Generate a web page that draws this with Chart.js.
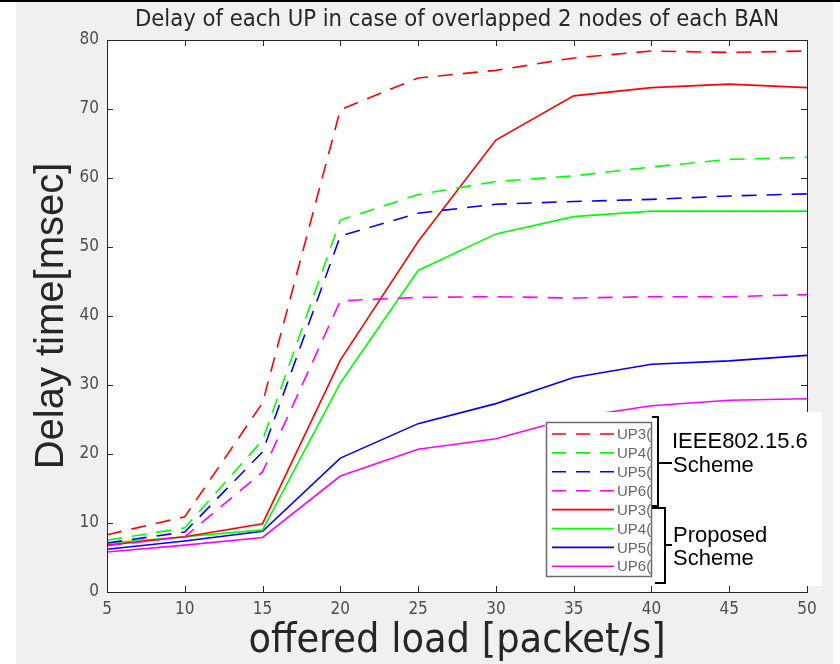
<!DOCTYPE html>
<html><head><meta charset="utf-8">
<script src="https://cdn.jsdelivr.net/npm/chart.js@4.4.1/dist/chart.umd.min.js"></script>
<style>html,body{margin:0;padding:0;background:#fff;overflow:hidden}#wrap{width:840px;height:664px;position:relative}</style>
</head><body><div id="wrap"><canvas id="c" width="840" height="664"></canvas></div>
<script>
const chartTitle = 'Delay of each UP in case of overlapped 2 nodes of each BAN';
const xTitle = 'offered load [packet/s]';
const yTitle = 'Delay time[msec]';
const loads = [5, 10, 15, 20, 25, 30, 35, 40, 45, 50];
const ieeeUP3 = [8.3, 10.9, 27.4, 69.9, 74.5, 75.6, 77.4, 78.4, 78.2, 78.4];
const ieeeUP4 = [7.5, 9.3, 22.0, 53.9, 57.6, 59.5, 60.3, 61.6, 62.7, 63.0];
const ieeeUP5 = [7.1, 8.7, 20.3, 51.6, 54.9, 56.2, 56.6, 56.9, 57.4, 57.7];
const ieeeUP6 = [6.7, 8.0, 17.4, 42.2, 42.7, 42.8, 42.6, 42.8, 42.8, 43.1];
const propUP3 = [6.8, 8.0, 9.9, 33.6, 50.8, 65.5, 71.9, 73.1, 73.6, 73.1];
const propUP4 = [7.1, 8.0, 9.0, 30.3, 46.6, 51.9, 54.4, 55.2, 55.2, 55.2];
const propUP5 = [6.2, 7.4, 8.8, 19.4, 24.4, 27.3, 31.1, 33.0, 33.5, 34.3];
const propUP6 = [5.8, 6.8, 7.9, 16.8, 20.7, 22.2, 25.3, 27.0, 27.8, 28.0];
const seriesLabels = ['UP3(IEEE802.15.6)', 'UP4(IEEE802.15.6)', 'UP5(IEEE802.15.6)', 'UP6(IEEE802.15.6)',
                      'UP3(Proposed)', 'UP4(Proposed)', 'UP5(Proposed)', 'UP6(Proposed)'];
const groupIEEE = ['IEEE802.15.6', 'Scheme'];
const groupProp = ['Proposed', 'Scheme'];

const seriesData = [ieeeUP3, ieeeUP4, ieeeUP5, ieeeUP6, propUP3, propUP4, propUP5, propUP6];
const colors = ['#ff0000', '#00ff00', '#0000ff', '#ff00ff'];
const DASH = [15, 10];
const condensed = "'DejaVu Sans Condensed','DejaVu Sans',sans-serif";

const datasets = seriesData.map((vals, i) => ({
  label: seriesLabels[i],
  data: loads.map((x, j) => ({x: x, y: vals[j]})),
  borderColor: colors[i % 4],
  backgroundColor: colors[i % 4],
  borderWidth: 1.6,
  borderDash: i < 4 ? DASH : [],
  pointRadius: 0,
  tension: 0,
  fill: false
}));

const framePlugin = {
  id: 'frame',
  beforeDraw(chart) {
    const {ctx, chartArea: a} = chart;
    ctx.save();
    ctx.fillStyle = '#ffffff'; ctx.fillRect(0, 0, 840, 664);
    ctx.fillStyle = '#f0f0f0'; ctx.fillRect(16, 0, 817, 664);
    ctx.fillStyle = '#000000'; ctx.fillRect(0, 0, 840, 2);
    ctx.fillStyle = '#ffffff'; ctx.fillRect(a.left, a.top, a.right - a.left, a.bottom - a.top);
    ctx.restore();
  },
  afterDatasetsDraw(chart) {
    const {ctx, chartArea: a, scales} = chart;
    ctx.save();
    ctx.strokeStyle = '#262626';
    ctx.lineWidth = 1;
    const TL = 6;
    ctx.beginPath();
    scales.x.ticks.forEach(t => {
      if (t.value <= scales.x.min || t.value >= scales.x.max) return;
      const px = Math.round(scales.x.getPixelForValue(t.value)) + 0.5;
      ctx.moveTo(px, a.bottom); ctx.lineTo(px, a.bottom - TL);
      ctx.moveTo(px, a.top); ctx.lineTo(px, a.top + TL);
    });
    scales.y.ticks.forEach(t => {
      if (t.value <= scales.y.min || t.value >= scales.y.max) return;
      const py = Math.round(scales.y.getPixelForValue(t.value)) + 0.5;
      ctx.moveTo(a.left, py); ctx.lineTo(a.left + TL, py);
      ctx.moveTo(a.right, py); ctx.lineTo(a.right - TL, py);
    });
    ctx.stroke();
    ctx.strokeRect(Math.round(a.left) + 0.5, Math.round(a.top) + 0.5, Math.round(a.right - a.left), Math.round(a.bottom - a.top));
    ctx.restore();
  },
  afterDraw(chart) {
    const {ctx} = chart;
    ctx.save();
    ctx.fillStyle = '#ffffff';
    ctx.fillRect(545, 412, 277, 174);
    ctx.strokeStyle = '#6a6a6a';
    ctx.lineWidth = 1.5;
    ctx.strokeRect(546.5, 422.5, 105, 154);
    chart.data.datasets.forEach((ds, i) => {
      const y = 434 + i * 18.9;
      ctx.beginPath();
      ctx.strokeStyle = ds.borderColor;
      ctx.lineWidth = 1.6;
      ctx.setLineDash(ds.borderDash && ds.borderDash.length ? [14, 10] : []);
      ctx.moveTo(552, y); ctx.lineTo(614, y);
      ctx.stroke();
      ctx.setLineDash([]);
      ctx.save();
      ctx.beginPath();
      ctx.rect(547, 423, 104, 153);
      ctx.clip();
      ctx.fillStyle = '#666666';
      ctx.font = "15px 'Liberation Sans', Arial, sans-serif";
      ctx.textBaseline = 'middle';
      ctx.fillText(ds.label, 617, y + 1);
      ctx.restore();
    });
    ctx.strokeStyle = '#000000';
    ctx.lineWidth = 2;
    ctx.beginPath();
    ctx.moveTo(652, 417); ctx.lineTo(658, 417); ctx.lineTo(658, 506); ctx.lineTo(652, 506);
    ctx.moveTo(658, 463); ctx.lineTo(672, 463);
    ctx.moveTo(652, 508); ctx.lineTo(665, 508); ctx.lineTo(665, 583); ctx.lineTo(655, 583);
    ctx.moveTo(665, 545); ctx.lineTo(672, 545);
    ctx.stroke();
    ctx.fillStyle = '#000000';
    ctx.font = "22px 'Liberation Sans', Arial, sans-serif";
    ctx.textBaseline = 'alphabetic';
    ctx.fillText(groupIEEE[0], 672, 448);
    ctx.fillText(groupIEEE[1], 673, 472);
    ctx.fillText(groupProp[0], 673, 542);
    ctx.fillText(groupProp[1], 673, 565);
    ctx.restore();
  }
};

new Chart(document.getElementById('c'), {
  type: 'line',
  data: {datasets: datasets},
  options: {
    responsive: false,
    animation: false,
    devicePixelRatio: 1,
    layout: {padding: {left: 16, right: 33, top: 3, bottom: 0}},
    plugins: {
      legend: {display: false},
      tooltip: {enabled: false},
      title: {
        display: true,
        fullSize: false,
        text: chartTitle,
        color: '#262626',
        font: {family: condensed, size: 23.6, weight: 'normal', lineHeight: 1},
        padding: {top: 5, bottom: 8.4}
      }
    },
    scales: {
      x: {
        type: 'linear',
        min: 5, max: 50,
        grid: {display: false, drawTicks: false},
        border: {display: false},
        ticks: {stepSize: 5, padding: 7, color: '#4d4d4d', font: {family: condensed, size: 17}, maxRotation: 0},
        title: {display: true, text: xTitle, color: '#262626',
                font: {family: condensed, size: 41, weight: 'normal', lineHeight: 1}, padding: {top: 0, bottom: 2}},
        afterFit(s) { s.height = 72; }
      },
      y: {
        type: 'linear',
        min: 0, max: 80,
        grid: {display: false, drawTicks: false},
        border: {display: false},
        ticks: {stepSize: 10, padding: 8, color: '#4d4d4d', font: {family: condensed, size: 17}},
        title: {display: true, text: yTitle, color: '#262626',
                font: {family: "'Liberation Sans', Arial, sans-serif", size: 40, weight: 'normal', lineHeight: 1}, padding: {top: 16, bottom: 0}},
        afterFit(s) { s.width = 91; }
      }
    }
  },
  plugins: [framePlugin]
});
</script>
</body></html>
